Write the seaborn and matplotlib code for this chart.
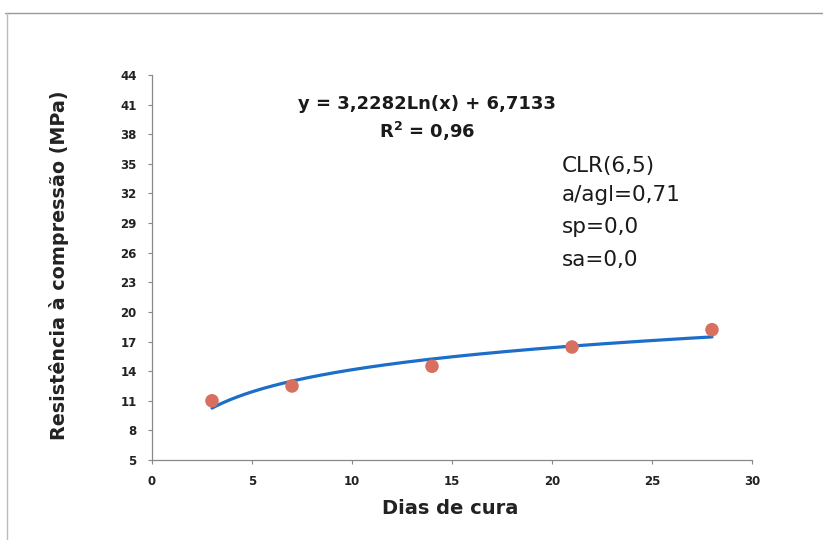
import numpy as np
import pandas as pd
import matplotlib
matplotlib.use("Agg")
import matplotlib.pyplot as plt
from matplotlib.lines import Line2D
import seaborn as sns

# Measured compressive strength by curing age
dias = [3, 7, 14, 21, 28]
resistencia = [11.0, 12.5, 14.5, 16.45, 18.2]

# Logarithmic trend line coefficients (y = a*ln(x) + b)
coef_a = 3.2282
coef_b = 6.7133
r2_label = "0,96"

x_ticks = [0, 5, 10, 15, 20, 25, 30]
y_ticks = [5, 8, 11, 14, 17, 20, 23, 26, 29, 32, 35, 38, 41, 44]

info_lines = ["CLR(6,5)", "a/agl=0,71", "sp=0,0", "sa=0,0"]

sns.set_theme(style="white")
plt.rcParams["font.family"] = ["DejaVu Sans"]

fig = plt.figure(figsize=(8.23, 5.40), dpi=100)
ax = fig.add_axes([0.1847, 0.1481, 0.7290, 0.7130])

xs = np.linspace(dias[0], dias[-1], 200)
trend = pd.DataFrame({"x": xs, "y": coef_a * np.log(xs) + coef_b})
pts = pd.DataFrame({"x": dias, "y": resistencia})

sns.lineplot(data=trend, x="x", y="y", ax=ax, color="#1c6ec8", linewidth=2.3, zorder=2)
sns.scatterplot(data=pts, x="x", y="y", ax=ax, color="#d9705f", s=95,
                edgecolor="none", zorder=3)

ax.set_xlim(0, 30)
ax.set_ylim(5, 44)
ax.set_xticks(x_ticks)
ax.set_yticks(y_ticks)
ax.set_xticklabels([str(t) for t in x_ticks], fontsize=8.5, fontweight="bold", color="#222222")
ax.set_yticklabels([str(t) for t in y_ticks], fontsize=8.5, fontweight="bold", color="#222222")
ax.tick_params(axis="both", direction="out", length=3, width=0.8, color="#888888",
               bottom=True, left=True)
ax.tick_params(axis="x", pad=8)
ax.tick_params(axis="y", pad=8)

for side in ["top", "right"]:
    ax.spines[side].set_visible(False)
for side in ["left", "bottom"]:
    ax.spines[side].set_color("#888888")
    ax.spines[side].set_linewidth(0.9)

ax.set_xlabel("Dias de cura", fontsize=14, fontweight="bold", color="#222222")
ax.set_ylabel("Resistência à compressão (MPa)", fontsize=13.8, fontweight="bold",
              color="#222222")
ax.xaxis.set_label_coords(0.497, -0.102)
ax.yaxis.set_label_coords(-0.138, 0.505)

ax.text(13.75, 41.1, f"y = {coef_a:.4f}Ln(x) + {coef_b:.4f}".replace(".", ","),
        fontsize=13, fontweight="bold", ha="center", va="center", color="#1a1a1a")
ax.text(13.75, 38.3, r"R$^\mathbf{2}$ = " + r2_label, fontsize=13, fontweight="bold",
        ha="center", va="center", color="#1a1a1a")

info_y = [34.8, 31.8, 28.6, 25.3]
for txt, yy in zip(info_lines, info_y):
    ax.text(20.5, yy, txt, fontsize=15.5, ha="left", va="center", color="#1a1a1a")

# Chart frame edges
fig.add_artist(Line2D([0.006, 1.0], [0.976, 0.976], transform=fig.transFigure,
                      color="#999999", linewidth=1.0))
fig.add_artist(Line2D([0.008, 0.008], [0.0, 0.976], transform=fig.transFigure,
                      color="#bbbbbb", linewidth=1.0))

fig.savefig("out.png", dpi=100)
